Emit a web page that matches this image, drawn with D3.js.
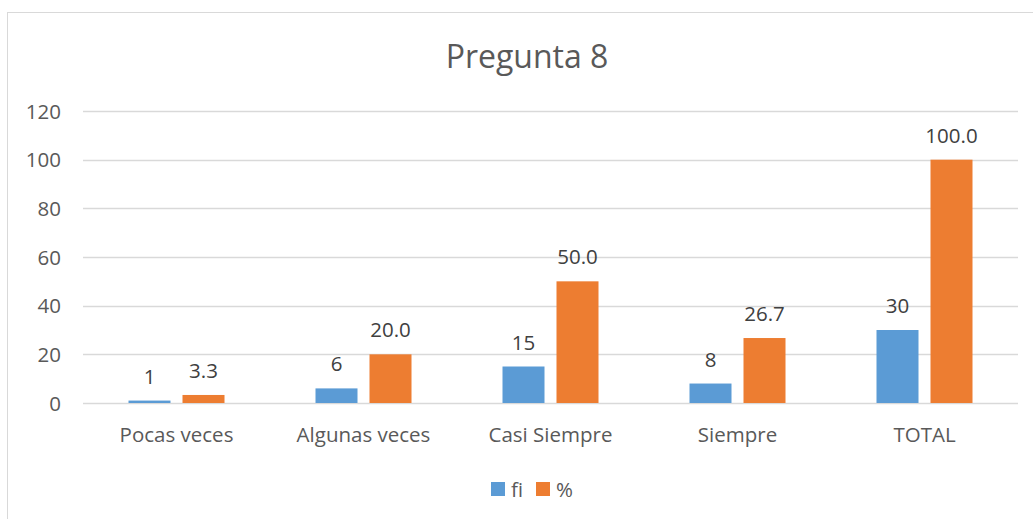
<!DOCTYPE html>
<html>
<head>
<meta charset="utf-8">
<script src="https://cdn.jsdelivr.net/npm/d3@7"></script>
<style>
  body { margin: 0; background: #fff; }
  text { font-family: "Open Sans", "Noto Sans", sans-serif; }
</style>
</head>
<body>
<div id="chart"></div>
<script>
// chart data
var categories = ["Pocas veces", "Algunas veces", "Casi Siempre", "Siempre", "TOTAL"];
var fiValues = [1, 6, 15, 8, 30];
var pctValues = [3.3, 20.0, 50.0, 26.7, 100.0];
var yTicks = [0, 20, 40, 60, 80, 100, 120];
var seriesNames = ["fi", "%"];

var colors = ["#5B9BD5", "#ED7D31"];
var width = 1033, height = 519;
var plot = { left: 83, right: 1018, top: 111, bottom: 403 };
var fontSize = 20.5;

var svg = d3.select("#chart").append("svg")
    .attr("width", width)
    .attr("height", height);

// chart border (the right and bottom edges fall outside the picture)
svg.append("rect")
    .attr("x", 7.5).attr("y", 12.5)
    .attr("width", 1040).attr("height", 520)
    .attr("fill", "#fff")
    .attr("stroke", "#D9D9D9");

svg.append("text")
    .attr("x", 527).attr("y", 68)
    .attr("text-anchor", "middle")
    .attr("font-size", 32)
    .attr("fill", "#595959")
    .text("Pregunta 8");

var x = d3.scaleBand()
    .domain(categories)
    .range([plot.left, plot.right]);

var y = d3.scaleLinear()
    .domain([0, 120])
    .range([plot.bottom, plot.top]);

// gridlines
svg.append("g").selectAll("line")
    .data(yTicks)
    .enter().append("line")
    .attr("x1", plot.left).attr("x2", plot.right)
    .attr("y1", function(d){ return Math.round(y(d)) + 0.5; })
    .attr("y2", function(d){ return Math.round(y(d)) + 0.5; })
    .attr("stroke", "#D9D9D9")
    .attr("stroke-width", 1.3);

// y tick labels
svg.append("g").selectAll("text")
    .data(yTicks)
    .enter().append("text")
    .attr("x", 61)
    .attr("y", function(d){ return y(d) + 7.5; })
    .attr("text-anchor", "end")
    .attr("font-size", fontSize)
    .attr("fill", "#595959")
    .text(function(d){ return d; });

// x category labels
svg.append("g").selectAll("text")
    .data(categories)
    .enter().append("text")
    .attr("x", function(d){ return x(d) + x.bandwidth() / 2; })
    .attr("y", 442)
    .attr("text-anchor", "middle")
    .attr("font-size", fontSize)
    .attr("fill", "#595959")
    .text(function(d){ return d; });

// bars: two series inside each category
var barWidth = 42, barGap = 12;
var series = [fiValues, pctValues];
var labelFmt = [function(v){ return String(v); }, function(v){ return v.toFixed(1); }];

series.forEach(function(values, s) {
   var offset = s === 0 ? -(barGap / 2 + barWidth) : barGap / 2;
   var g = svg.append("g");

   g.selectAll("rect")
       .data(values)
       .enter().append("rect")
       .attr("x", function(d, i){ return x(categories[i]) + x.bandwidth() / 2 + offset; })
       .attr("y", function(d){ return y(d); })
       .attr("width", barWidth)
       .attr("height", function(d){ return y(0) - y(d); })
       .attr("fill", colors[s]);

   g.selectAll("text")
       .data(values)
       .enter().append("text")
       .attr("x", function(d, i){ return x(categories[i]) + x.bandwidth() / 2 + offset + barWidth / 2; })
       .attr("y", function(d){ return y(d) - 17; })
       .attr("text-anchor", "middle")
       .attr("font-size", fontSize)
       .attr("fill", "#404040")
       .text(labelFmt[s]);
});

// legend
var legend = svg.append("g").selectAll("g")
    .data(seriesNames)
    .enter().append("g")
    .attr("transform", function(d, i){ return "translate(" + (491 + i * 45) + ",482)"; });

legend.append("rect")
    .attr("width", 14).attr("height", 14)
    .attr("fill", function(d, i){ return colors[i]; });

legend.append("text")
    .attr("x", 20).attr("y", 15)
    .attr("font-size", fontSize)
    .attr("fill", "#595959")
    .text(function(d){ return d; });
</script>
</body>
</html>
